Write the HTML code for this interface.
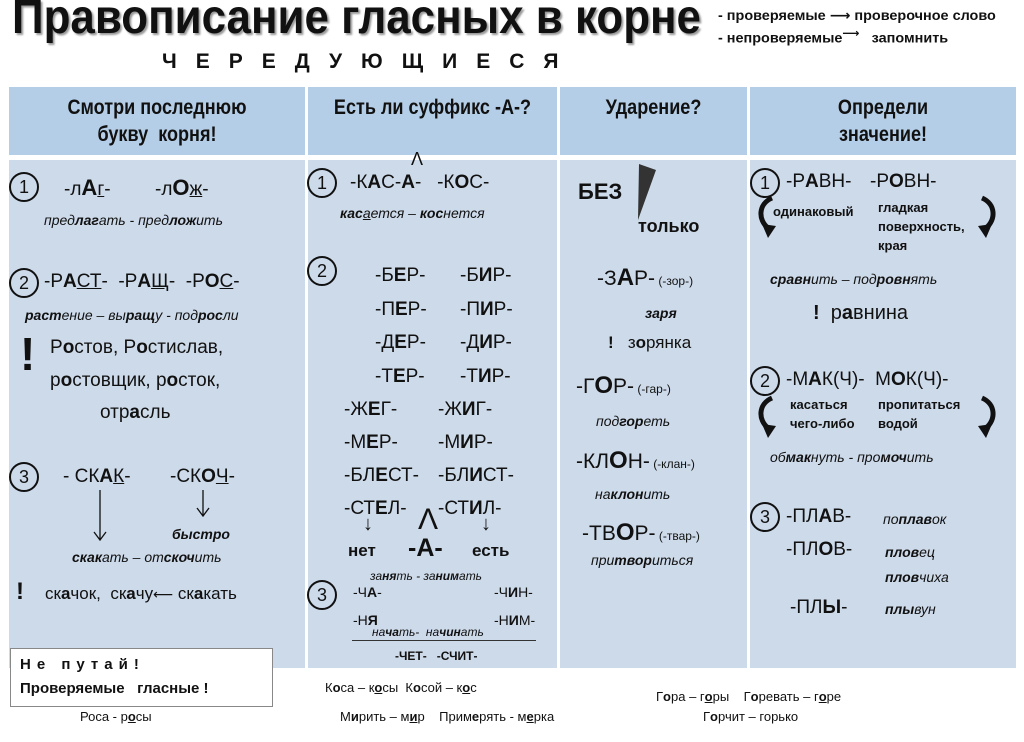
<!DOCTYPE html>
<html><head><meta charset="utf-8">
<style>
body{margin:0;width:1024px;height:742px;background:#fff;position:relative;overflow:hidden;font-family:"Liberation Sans","DejaVu Sans",sans-serif;color:#111}
.a{position:absolute;white-space:pre;line-height:1}
.hd{position:absolute;top:87px;height:68px;background:#b5cee7}
.bd{position:absolute;top:160px;height:508px;background:#cddaea}
.c{position:absolute;width:26px;height:26px;border:2px solid #111;border-radius:50%;font-size:18px;line-height:26px;text-align:center}
.r{font-size:19px}
.i{font-style:italic;font-size:14px}
.h{font-size:21px;font-weight:bold;transform:scaleX(.86);transform-origin:center;text-align:center;line-height:27px}
b{font-weight:bold}
u{text-decoration:underline}
.s{font-size:12px;font-weight:bold}
</style></head><body>
<div class="a" style="left:12px;top:-6px;font-size:48px;font-weight:bold;transform:scaleX(.915);transform-origin:left;text-shadow:2px 2px 2px #999">Правописание гласных в корне</div>
<div class="a" style="left:718px;top:8px;font-size:14px;font-weight:bold;transform:scaleX(1.03);transform-origin:left">- проверяемые ⟶ проверочное слово</div>
<div class="a" style="left:718px;top:28px;font-size:14px;font-weight:bold;transform:scaleX(1.03);transform-origin:left">- непроверяемые<sup>⟶</sup>   запомнить</div>
<div class="a" style="left:162px;top:51px;font-size:21px;font-weight:bold;letter-spacing:19px">ЧЕРЕДУЮЩИЕСЯ</div>

<div class="hd" style="left:9px;width:296px"></div>
<div class="hd" style="left:308px;width:249px"></div>
<div class="hd" style="left:560px;width:187px"></div>
<div class="hd" style="left:750px;width:266px"></div>
<div class="bd" style="left:9px;width:296px"></div>
<div class="bd" style="left:308px;width:249px"></div>
<div class="bd" style="left:560px;width:187px"></div>
<div class="bd" style="left:750px;width:266px"></div>

<div class="a h" style="left:9px;top:94px;width:296px">Смотри последнюю
букву  корня!</div>
<div class="a h" style="left:308px;top:94px;width:249px">Есть ли суффикс -А-?</div>
<div class="a h" style="left:560px;top:94px;width:187px">Ударение?</div>
<div class="a h" style="left:750px;top:94px;width:266px">Определи
значение!</div>

<!-- col1 -->
<div class="c" style="left:9px;top:172px">1</div>
<div class="a r" style="left:64px;top:177px">-л<b style="font-size:22px">А</b><u>г</u>-</div>
<div class="a r" style="left:155px;top:177px">-л<b style="font-size:22px">О</b><u>ж</u>-</div>
<div class="a i" style="left:44px;top:213px">пред<b>лаг</b>ать - пред<b>лож</b>ить</div>
<div class="c" style="left:9px;top:268px">2</div>
<div class="a r" style="left:44px;top:272px">-Р<b>А</b><u>СТ</u>-  -Р<b>А</b><u>Щ</u>-  -Р<b>О</b><u>С</u>-</div>
<div class="a i" style="left:25px;top:308px"><b>раст</b>ение – вы<b>ращ</b>у - под<b>рос</b>ли</div>
<div class="a" style="left:20px;top:331px;font-size:46px;font-weight:bold">!</div>
<div class="a r" style="left:50px;top:338px">Р<b>о</b>стов, Р<b>о</b>стислав,</div>
<div class="a r" style="left:50px;top:371px">р<b>о</b>стовщик, р<b>о</b>сток,</div>
<div class="a r" style="left:100px;top:403px">отр<b>а</b>сль</div>
<div class="c" style="left:9px;top:462px">3</div>
<div class="a r" style="left:63px;top:467px">- СК<b>А</b><u>К</u>-</div>
<div class="a r" style="left:170px;top:467px">-СК<b>О</b><u>Ч</u>-</div>
<svg class="a" style="left:0;top:0" width="310" height="560"><g stroke="#111" stroke-width="1.3" fill="none"><path d="M100 490V540M94 532L100 540L106 532M203 490V516M197 508L203 516L209 508"/></g></svg>
<div class="a i" style="left:172px;top:527px;font-weight:bold">быстро</div>
<div class="a i" style="left:72px;top:550px"><b>скак</b>ать – от<b>скоч</b>ить</div>
<div class="a" style="left:16px;top:580px;font-size:24px;font-weight:bold">!</div>
<div class="a" style="left:45px;top:585px;font-size:17px">ск<b>а</b>чок,  ск<b>а</b>чу<span style="font-size:14px">⟵</span> ск<b>а</b>кать</div>
<div class="a" style="left:10px;top:648px;width:261px;height:57px;background:#fff;border:1px solid #888"></div>
<div class="a" style="left:20px;top:657px;font-size:15px;font-weight:bold;letter-spacing:6px">Не путай!</div>
<div class="a" style="left:20px;top:681px;font-size:15px;font-weight:bold">Проверяемые   гласные !</div>
<div class="a" style="left:80px;top:710px;font-size:13px">Роса - р<u><b>о</b></u>сы</div>

<!-- col2 -->
<div class="c" style="left:307px;top:168px">1</div>
<div class="a" style="left:411px;top:150px;font-size:18px">Λ</div>
<div class="a r" style="left:350px;top:173px">-К<b>А</b>С-<b>А</b>-   -К<b>О</b>С-</div>
<div class="a i" style="left:340px;top:206px"><b>кас</b><u>а</u>ется – <b>кос</b>нется</div>
<div class="c" style="left:307px;top:256px">2</div>
<div class="a r" style="left:375px;top:259px;line-height:33.5px">-Б<b>Е</b>Р-
-П<b>Е</b>Р-
-Д<b>Е</b>Р-
-Т<b>Е</b>Р-</div>
<div class="a r" style="left:460px;top:259px;line-height:33.5px">-Б<b>И</b>Р-
-П<b>И</b>Р-
-Д<b>И</b>Р-
-Т<b>И</b>Р-</div>
<div class="a r" style="left:344px;top:393px;line-height:33px">-Ж<b>Е</b>Г-
-М<b>Е</b>Р-
-БЛ<b>Е</b>СТ-
-СТ<b>Е</b>Л-</div>
<div class="a r" style="left:438px;top:393px;line-height:33px">-Ж<b>И</b>Г-
-М<b>И</b>Р-
-БЛ<b>И</b>СТ-
-СТ<b>И</b>Л-</div>
<div class="a" style="left:363px;top:514px;font-size:20px">↓</div>
<div class="a" style="left:481px;top:514px;font-size:20px">↓</div>
<div class="a" style="left:418px;top:505px;font-size:30px">Λ</div>
<div class="a" style="left:348px;top:542px;font-size:17px;font-weight:bold">нет</div>
<div class="a" style="left:408px;top:536px;font-size:25px;font-weight:bold">-А-</div>
<div class="a" style="left:472px;top:542px;font-size:17px;font-weight:bold">есть</div>
<div class="a i" style="left:370px;top:570px;font-size:12px">за<b>ня</b>ть - за<b>ним</b>ать</div>
<div class="c" style="left:307px;top:580px">3</div>
<div class="a" style="left:353px;top:585px;font-size:14px">-Ч<b>А</b>-</div>
<div class="a" style="left:494px;top:585px;font-size:14px">-Ч<b>И</b>Н-</div>
<div class="a" style="left:353px;top:613px;font-size:14px">-Н<b>Я</b></div>
<div class="a" style="left:494px;top:613px;font-size:14px">-Н<b>И</b>М-</div>
<div class="a i" style="left:372px;top:626px;font-size:12px">на<b>ча</b>ть-  на<b>чин</b>ать</div>
<div class="a" style="left:352px;top:640px;width:184px;height:1px;background:#333"></div>
<div class="a s" style="left:395px;top:650px">-ЧЕТ-   -СЧИТ-</div>
<div class="a" style="left:325px;top:681px;font-size:13px">К<b>о</b>са – к<u><b>о</b></u>сы  К<b>о</b>сой – к<u><b>о</b></u>с</div>
<div class="a" style="left:340px;top:710px;font-size:13px">М<b>и</b>рить – м<u><b>и</b></u>р    Прим<b>е</b>рять - м<u><b>е</b></u>рка</div>

<!-- col3 -->
<div class="a" style="left:578px;top:181px;font-size:22px;font-weight:bold">БЕЗ</div>
<svg class="a" style="left:630px;top:160px" width="30" height="65"><polygon points="9,4 26,10 8,60" fill="#333"/></svg>
<div class="a" style="left:638px;top:217px;font-size:18px;font-weight:bold">только</div>
<div class="a" style="left:597px;top:266px;font-size:21px">-З<b style="font-size:24px">А</b>Р-<span style="font-size:12px"> (-зор-)</span></div>
<div class="a i" style="left:645px;top:306px;font-weight:bold">заря</div>
<div class="a" style="left:608px;top:334px;font-size:17px"><b>!</b>   з<b>о</b>рянка</div>
<div class="a" style="left:576px;top:374px;font-size:21px">-Г<b style="font-size:24px">О</b>Р-<span style="font-size:12px"> (-гар-)</span></div>
<div class="a i" style="left:596px;top:414px">под<b>гор</b>еть</div>
<div class="a" style="left:576px;top:449px;font-size:21px">-КЛ<b style="font-size:24px">О</b>Н-<span style="font-size:12px"> (-клан-)</span></div>
<div class="a i" style="left:595px;top:487px">на<b>клон</b>ить</div>
<div class="a" style="left:582px;top:521px;font-size:21px">-ТВ<b style="font-size:24px">О</b>Р-<span style="font-size:12px"> (-твар-)</span></div>
<div class="a i" style="left:591px;top:553px">при<b>твор</b>иться</div>
<div class="a" style="left:656px;top:690px;font-size:13px">Г<b>о</b>ра – г<u><b>о</b></u>ры    Г<b>о</b>ревать – г<u><b>о</b></u>ре</div>
<div class="a" style="left:703px;top:710px;font-size:13px">Г<b>о</b>рчит – горько</div>

<!-- col4 -->
<div class="c" style="left:750px;top:168px">1</div>
<div class="a r" style="left:786px;top:172px">-Р<b>А</b>ВН-</div>
<div class="a r" style="left:870px;top:172px">-Р<b>О</b>ВН-</div>
<svg class="a" style="left:750px;top:192px" width="260" height="50"><g fill="none" stroke="#111" stroke-width="5"><path d="M22 6C8 12 8 28 18 36"/><path d="M232 6C246 12 246 28 236 36"/></g><polygon points="12,32 26,34 18,46" fill="#111"/><polygon points="242,32 228,34 236,46" fill="#111"/></svg>
<div class="a s" style="left:773px;top:205px;font-size:13px">одинаковый</div>
<div class="a s" style="left:878px;top:198px;font-size:13px;line-height:19px">гладкая
поверхность,
края</div>
<div class="a i" style="left:770px;top:272px"><b>сравн</b>ить – под<b>ровн</b>ять</div>
<div class="a" style="left:813px;top:303px;font-size:20px"><b>!</b>  р<b>а</b>внина</div>
<div class="c" style="left:750px;top:366px">2</div>
<div class="a r" style="left:786px;top:370px">-М<b>А</b>К(Ч)-  М<b>О</b>К(Ч)-</div>
<svg class="a" style="left:750px;top:392px" width="260" height="50"><g fill="none" stroke="#111" stroke-width="5"><path d="M22 6C8 12 8 28 18 36"/><path d="M232 6C246 12 246 28 236 36"/></g><polygon points="12,32 26,34 18,46" fill="#111"/><polygon points="242,32 228,34 236,46" fill="#111"/></svg>
<div class="a s" style="left:790px;top:395px;font-size:13px;line-height:19px">касаться
чего-либо</div>
<div class="a s" style="left:878px;top:395px;font-size:13px;line-height:19px">пропитаться
водой</div>
<div class="a i" style="left:770px;top:450px">об<b>мак</b>нуть - про<b>моч</b>ить</div>
<div class="c" style="left:750px;top:502px">3</div>
<div class="a r" style="left:786px;top:507px">-ПЛ<b>А</b>В-</div>
<div class="a i" style="left:883px;top:512px">по<b>плав</b>ок</div>
<div class="a r" style="left:786px;top:540px">-ПЛ<b>О</b>В-</div>
<div class="a i" style="left:885px;top:545px"><b>плов</b>ец</div>
<div class="a i" style="left:885px;top:570px"><b>плов</b>чиха</div>
<div class="a r" style="left:790px;top:598px">-ПЛ<b>Ы</b>-</div>
<div class="a i" style="left:885px;top:602px"><b>плы</b>вун</div>
</body></html>
